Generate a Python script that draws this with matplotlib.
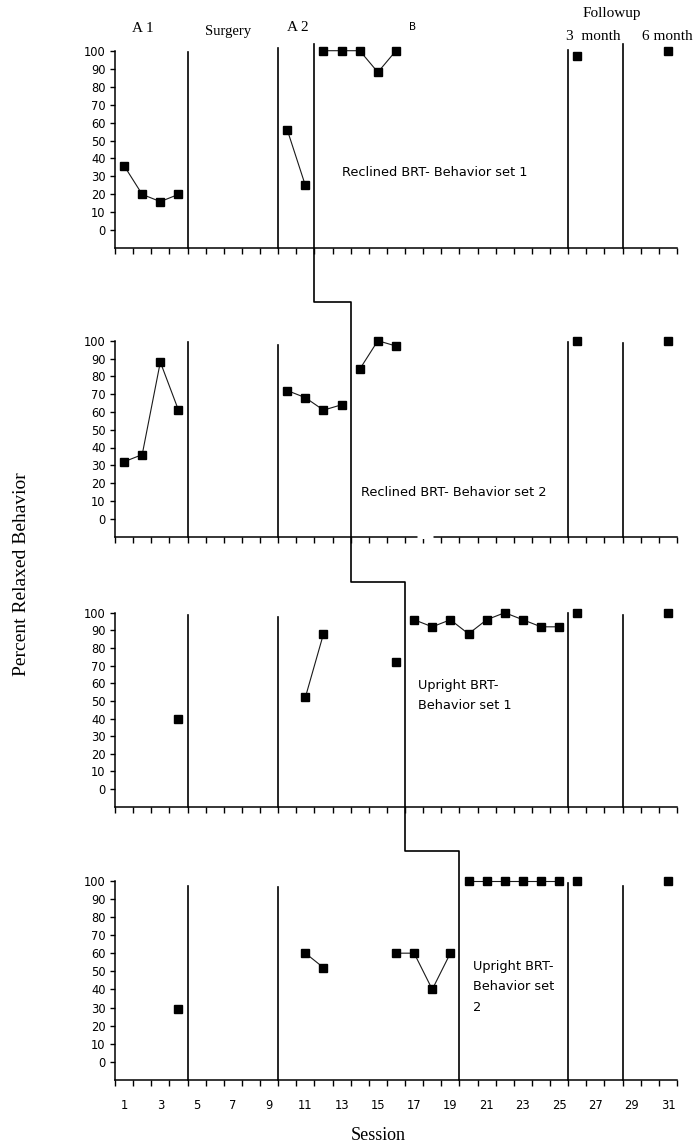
import matplotlib
matplotlib.use("Agg")
import matplotlib.pyplot as plt
import matplotlib.transforms as mtransforms
import numpy as np

# ---------------- data ----------------
N = np.nan
sessions = np.arange(1, 32)
reclined_set1 = [36, 20, 16, 20, N, N, N, N, N, 56, 25, 100, 100, 100, 88, 100,
                 N, N, N, N, N, N, N, N, N, 97, N, N, N, N, 100]
reclined_set2 = [32, 36, 88, 61, N, N, N, N, N, 72, 68, 61, 64, 84, 100, 97,
                 N, N, N, N, N, N, N, N, N, 100, N, N, N, N, 100]
upright_set1 = [N, N, N, 40, N, N, N, N, N, N, 52, 88, N, N, N, 72,
                96, 92, 96, 88, 96, 100, 96, 92, 92, 100, N, N, N, N, 100]
upright_set2 = [N, N, N, 29, N, N, N, N, N, N, 60, 52, N, N, N, 60,
                60, 40, 60, 100, 100, 100, 100, 100, 100, 100, N, N, N, N, 100]
panel_values = [reclined_set1, reclined_set2, upright_set1, upright_set2]
panel_names = ["Reclined BRT- Behavior set 1", "Reclined BRT- Behavior set 2",
               "Upright BRT-\nBehavior set 1", "Upright BRT-\nBehavior set\n2"]

baseline_end = 4.5      # A1 -> Surgery
surgery_end = 9.5       # Surgery -> A2
b_start = [11.5, 13.5, 16.5, 19.5]   # A2 -> B (staggered per panel)
followup_lines = [25.5, 28.5]
phase_labels = ["A 1", "Surgery", "A 2", "B", "Followup", "3  month", "6 month"]
yticks = list(range(0, 101, 10))
xtick_labels = list(range(1, 32, 2))

# ---------------- layout ----------------
W, H = 696, 1145
fig = plt.figure(figsize=(W / 100, H / 100), dpi=100)
fig.patch.set_facecolor("white")

left_px, right_px = 115, 677
# (axis line y, top (100) y) in pixels from top
panel_px = [(248.3, 50.7), (536.5, 340.7), (806.7, 612.7), (1080.0, 880.7)]
# tops of the vertical phase lines (in data units) per panel: 4.5, 9.5, 25.5, 28.5
line_tops = [[99.5, 101.7, 100.4, 103.6],
             [99.5, 97.5, 99.5, 98.6],
             [98.7, 97.4, 99.7, 98.7],
             [97.2, 96.3, 98.9, 97.2]]
text_pos = [(13.0, 32), (14.05, 15), (17.2, 53), (20.25, 41.5)]

sans = ["DejaVu Sans"]
serif = ["Liberation Serif", "DejaVu Serif"]
ink = "#000000"

axes = []
for i, (ax_y, top_y) in enumerate(panel_px):
    ax = fig.add_axes([left_px / W, 1 - ax_y / H,
                       (right_px - left_px) / W, (ax_y - top_y) / H])
    axes.append(ax)
    ax.set_xlim(0.5, 31.5)
    ax.set_ylim(-10, 100)
    for s in ["top", "right"]:
        ax.spines[s].set_visible(False)
    for s in ["left", "bottom"]:
        ax.spines[s].set_linewidth(1.1)
        ax.spines[s].set_color(ink)
    ax.spines["left"].set_bounds(-10, 100)
    ax.set_yticks(yticks)
    ax.set_yticklabels([str(v) for v in yticks], family=sans, fontsize=8.3)
    ax.tick_params(axis="y", direction="out", length=3.6, width=1.0, pad=3.2, colors=ink)
    ax.set_xticks(np.arange(0.5, 32, 1), minor=True)
    ax.set_xticks(xtick_labels)
    ax.tick_params(axis="x", which="minor", direction="out", length=4.2, width=1.0, colors=ink)
    ax.tick_params(axis="x", which="major", length=0, pad=13.5, colors=ink)
    if i == 3:
        ax.set_xticklabels([str(v) for v in xtick_labels], family=sans, fontsize=8.3)
    else:
        ax.set_xticklabels([])
    ax.patch.set_alpha(0)

    # phase lines
    for xv, yt in zip([baseline_end, surgery_end] + followup_lines, line_tops[i]):
        ax.plot([xv, xv], [-10, yt], color=ink, lw=1.2, clip_on=False, zorder=2)

    # data by phase
    vals = np.array(panel_values[i], dtype=float)
    bounds = [0.5, baseline_end, surgery_end, b_start[i]] + followup_lines + [31.5]
    for lo, hi in zip(bounds[:-1], bounds[1:]):
        m = (sessions > lo) & (sessions < hi)
        if np.all(np.isnan(vals[m])):
            continue
        ax.plot(sessions[m], vals[m], color="#1a1a1a", lw=0.8, marker="s",
                markersize=5.2, markerfacecolor=ink, markeredgecolor=ink,
                clip_on=False, zorder=4)

    tx, ty = text_pos[i]
    ax.text(tx, ty, panel_names[i], family=sans, fontsize=9.3, ha="left",
            va="center", linespacing=1.75, color=ink)

# gap in the second panel's axis line
axes[1].plot([17.16, 18.04], [-10, -10], color="white", lw=2.2,
             solid_capstyle="butt", clip_on=False, zorder=5)

# staircase phase-change line across panels
stair_y_px = [44.3, 301.7, 581.7, 850.7, 1080.0]
sx, sy = [], []
sx.append(b_start[0]); sy.append(1 - stair_y_px[0] / H)
for k in range(len(b_start)):
    sx.append(b_start[k]); sy.append(1 - stair_y_px[k + 1] / H)
    if k + 1 < len(b_start):
        sx.append(b_start[k + 1]); sy.append(1 - stair_y_px[k + 1] / H)
trans = mtransforms.blended_transform_factory(axes[0].transData, fig.transFigure)
fig.add_artist(plt.Line2D(sx, sy, color=ink, lw=1.2, transform=trans, zorder=3))

# phase labels above first panel
ax0 = axes[0]
tr0 = mtransforms.blended_transform_factory(ax0.transData, ax0.transAxes)
label_pos = [(2.05, 1.110, 11), (6.74, 1.098, 10.5), (10.6, 1.115, 11),
             (16.9, 1.120, 8), (27.9, 1.186, 11), (26.9, 1.074, 11), (30.95, 1.074, 11)]
for txt, (lx, ly, fs) in zip(phase_labels, label_pos):
    fam = sans if txt == "B" else serif
    ax0.text(lx, ly, txt, transform=tr0, family=fam, fontsize=fs if txt != "B" else 7.5,
             ha="center", va="center", color=ink, clip_on=False)

# axis titles
ax3 = axes[3]
tr3 = mtransforms.blended_transform_factory(ax3.transData, ax3.transAxes)
ax3.text(15.0, -0.276, "Session", transform=tr3, family=serif, fontsize=13,
         ha="center", va="center", color=ink)
fig.text(22 / W, 1 - 574 / H, "Percent Relaxed Behavior", rotation=90,
         family=serif, fontsize=14, ha="center", va="center", color=ink)

fig.savefig("out.png", dpi=100, facecolor="white")
